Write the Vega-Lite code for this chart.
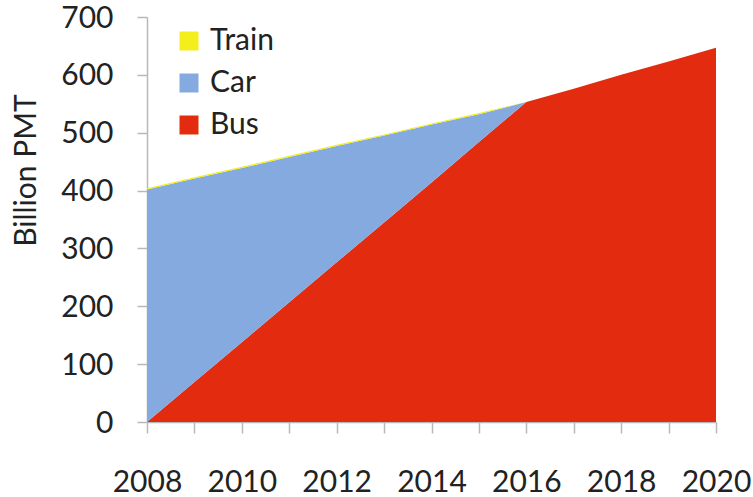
{
  "$schema": "https://vega.github.io/schema/vega-lite/v6.json",
  "width": 569,
  "height": 405,
  "autosize": {"type": "none"},
  "padding": {"left": 147, "top": 17, "right": 37, "bottom": 75},
  "background": "white",
  "config": {
    "view": {"stroke": null},
    "font": "Lato",
    "axis": {"grid": false}
  },
  "data": {
    "values": [
      {"year": 2008, "series": "Bus", "pmt": 0},
      {"year": 2009, "series": "Bus", "pmt": 69},
      {"year": 2010, "series": "Bus", "pmt": 138},
      {"year": 2011, "series": "Bus", "pmt": 207},
      {"year": 2012, "series": "Bus", "pmt": 276},
      {"year": 2013, "series": "Bus", "pmt": 345},
      {"year": 2014, "series": "Bus", "pmt": 414},
      {"year": 2015, "series": "Bus", "pmt": 484},
      {"year": 2016, "series": "Bus", "pmt": 553},
      {"year": 2017, "series": "Bus", "pmt": 576},
      {"year": 2018, "series": "Bus", "pmt": 600},
      {"year": 2019, "series": "Bus", "pmt": 623},
      {"year": 2020, "series": "Bus", "pmt": 647},
      {"year": 2008, "series": "Car", "pmt": 402},
      {"year": 2009, "series": "Car", "pmt": 352},
      {"year": 2010, "series": "Car", "pmt": 301},
      {"year": 2011, "series": "Car", "pmt": 251},
      {"year": 2012, "series": "Car", "pmt": 201},
      {"year": 2013, "series": "Car", "pmt": 150},
      {"year": 2014, "series": "Car", "pmt": 100},
      {"year": 2015, "series": "Car", "pmt": 48},
      {"year": 2016, "series": "Car", "pmt": 0},
      {"year": 2017, "series": "Car", "pmt": 0},
      {"year": 2018, "series": "Car", "pmt": 0},
      {"year": 2019, "series": "Car", "pmt": 0},
      {"year": 2020, "series": "Car", "pmt": 0},
      {"year": 2008, "series": "Train", "pmt": 2},
      {"year": 2009, "series": "Train", "pmt": 2},
      {"year": 2010, "series": "Train", "pmt": 2},
      {"year": 2011, "series": "Train", "pmt": 2},
      {"year": 2012, "series": "Train", "pmt": 2},
      {"year": 2013, "series": "Train", "pmt": 2},
      {"year": 2014, "series": "Train", "pmt": 2},
      {"year": 2015, "series": "Train", "pmt": 2},
      {"year": 2016, "series": "Train", "pmt": 0},
      {"year": 2017, "series": "Train", "pmt": 0},
      {"year": 2018, "series": "Train", "pmt": 0},
      {"year": 2019, "series": "Train", "pmt": 0},
      {"year": 2020, "series": "Train", "pmt": 0}
    ]
  },
  "mark": {"type": "area", "interpolate": "linear"},
  "encoding": {
    "x": {
      "field": "year",
      "type": "quantitative",
      "scale": {"domain": [2008, 2020], "nice": false, "zero": false},
      "axis": {
        "title": null,
        "values": [2008, 2009, 2010, 2011, 2012, 2013, 2014, 2015, 2016, 2017, 2018, 2019, 2020],
        "labelExpr": "datum.value % 2 == 0 ? format(datum.value, 'd') : ''",
        "labelFont": "Lato",
        "labelFontSize": 30,
        "labelColor": "#222222",
        "labelPadding": 34,
        "labelFlush": false,
        "labelOverlap": false,
        "tickSize": 11,
        "tickColor": "#b8b8b8",
        "tickWidth": 1.5,
        "domainColor": "#b8b8b8",
        "domainWidth": 1.5
      }
    },
    "y": {
      "field": "pmt",
      "type": "quantitative",
      "stack": "zero",
      "scale": {"domain": [0, 700], "nice": false},
      "axis": {
        "title": "Billion PMT",
        "titleFont": "Lato",
        "titleFontSize": 30,
        "titleFontWeight": "normal",
        "titleColor": "#222222",
        "titleAngle": -90,
        "titleAlign": "center",
        "titleBaseline": "alphabetic",
        "titleX": -112,
        "titleY": 153,
        "values": [0, 100, 200, 300, 400, 500, 600, 700],
        "labelFont": "Lato",
        "labelFontSize": 30,
        "labelColor": "#222222",
        "labelPadding": 24,
        "labelOffset": 1,
        "labelFlush": false,
        "tickSize": 10,
        "tickColor": "#b8b8b8",
        "tickWidth": 1.5,
        "domainColor": "#b8b8b8",
        "domainWidth": 1.5
      }
    },
    "color": {
      "field": "series",
      "type": "nominal",
      "scale": {
        "domain": ["Train", "Car", "Bus"],
        "range": ["#f3ee1c", "#84aadf", "#e22b0f"]
      },
      "legend": {
        "title": null,
        "orient": "none",
        "legendX": 27,
        "legendY": 9,
        "padding": 0,
        "symbolType": "square",
        "symbolSize": 361,
        "symbolStrokeWidth": 0,
        "symbolOpacity": 1,
        "labelFont": "Lato",
        "labelFontSize": 30,
        "labelColor": "#222222",
        "labelOffset": 6,
        "rowPadding": 12
      }
    },
    "order": {"field": "series", "sort": "ascending"}
  }
}
